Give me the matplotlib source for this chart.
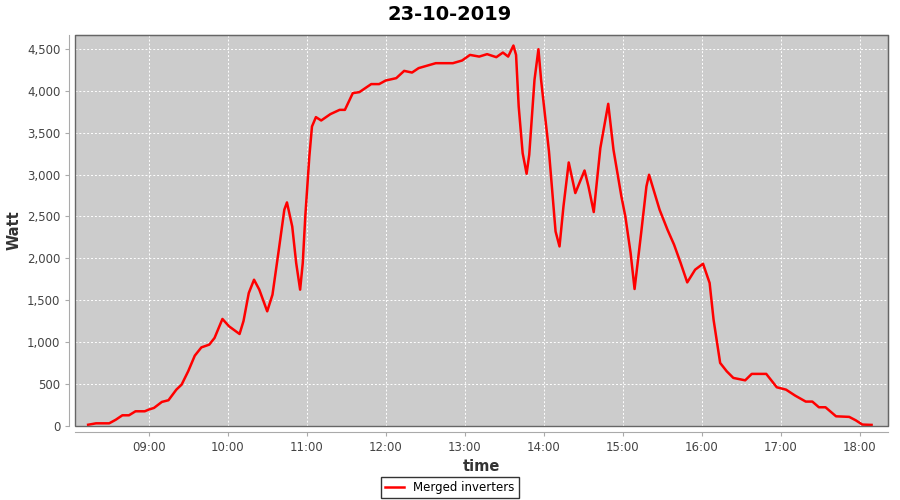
import matplotlib
matplotlib.use('Agg')
import matplotlib.pyplot as plt
import matplotlib.dates as mdates
from matplotlib.patches import Rectangle
from matplotlib.ticker import FuncFormatter
import pandas as pd

# readings of 23-10-2019 (time of day, Watt)
times = ['08:14', '08:20', '08:30', '08:35', '08:40', '08:45', '08:50', '08:57',
         '09:00', '09:04', '09:10', '09:15', '09:21', '09:25', '09:30', '09:35',
         '09:40', '09:46', '09:50', '09:56', '10:01', '10:09', '10:12', '10:16',
         '10:20', '10:24', '10:30', '10:34', '10:39', '10:43', '10:45', '10:49',
         '10:52', '10:55', '10:57', '10:59', '11:02', '11:04', '11:07', '11:11',
         '11:18', '11:25', '11:29', '11:35', '11:40', '11:49', '11:55', '12:00',
         '12:08', '12:14', '12:20', '12:25', '12:38', '12:51', '12:58', '13:04',
         '13:11', '13:17', '13:24', '13:29', '13:33', '13:37', '13:39', '13:41',
         '13:44', '13:47', '13:49', '13:53', '13:56', '13:58', '14:04', '14:09',
         '14:12', '14:15', '14:19', '14:24', '14:31', '14:34', '14:38', '14:43',
         '14:49', '14:53', '14:59', '15:02', '15:06', '15:09', '15:14', '15:18',
         '15:20', '15:28', '15:34', '15:39', '15:44', '15:49', '15:55', '16:01',
         '16:06', '16:09', '16:14', '16:19', '16:24', '16:33', '16:38', '16:49',
         '16:57', '17:04', '17:11', '17:19', '17:24', '17:29', '17:34', '17:42',
         '17:52', '17:57', '18:02', '18:09']
watt = [10, 27, 27, 70, 123, 123, 171, 171,
        191, 211, 283, 303, 430, 490, 650, 836,
        935, 968, 1048, 1275, 1187, 1095, 1250, 1585,
        1744, 1625, 1366, 1565, 2123, 2581, 2668, 2381,
        1944, 1625, 1944, 2521, 3217, 3576, 3688, 3648,
        3724, 3775, 3775, 3975, 3987, 4083, 4083, 4126,
        4154, 4241, 4221, 4274, 4333, 4333, 4365, 4432,
        4412, 4441, 4405, 4460, 4412, 4544, 4432, 3815,
        3258, 3011, 3238, 4134, 4500, 4134, 3277, 2321,
        2142, 2620, 3146, 2780, 3050, 2859, 2553, 3318,
        3847, 3297, 2739, 2500, 2063, 1633, 2302, 2859,
        2999, 2581, 2342, 2163, 1944, 1712, 1864, 1935,
        1705, 1266, 749, 649, 570, 541, 618, 618,
        458, 430, 358, 287, 287, 219, 219, 111,
        104, 63, 12, 8]

x = pd.to_datetime(['2019-10-23 ' + t for t in times])

fig = plt.figure(figsize=(9, 5), dpi=100)
ax = fig.add_axes([0.0833, 0.148, 0.9034, 0.782])
ax.set_facecolor('#cccccc')

line, = ax.plot(x, watt, color='#ff0000', lw=1.8, label='Merged inverters')

ax.set_xlim(pd.Timestamp('2019-10-23 08:04'), pd.Timestamp('2019-10-23 18:21:30'))
ax.set_ylim(-5, 4670)
ax.set_yticks(range(0, 4501, 500))
ax.yaxis.set_major_formatter(FuncFormatter(lambda v, p: f'{int(v):,}'))
ax.xaxis.set_major_locator(mdates.HourLocator())
ax.xaxis.set_major_formatter(mdates.DateFormatter('%H:%M'))

ax.grid(True, color='white', linestyle=(0, (2, 2)), linewidth=0.7)
ax.set_axisbelow(True)

# separate axis lines like the original, plus plot outline
for s in ['left', 'bottom']:
    ax.spines[s].set_position(('outward', 4))
    ax.spines[s].set_color('#aaaaaa')
for s in ['top', 'right']:
    ax.spines[s].set_color('#666666')
ax.add_patch(Rectangle((0, 0), 1, 1, transform=ax.transAxes, fill=False,
                       edgecolor='#666666', lw=1, clip_on=False, zorder=5))

ax.tick_params(axis='both', colors='#aaaaaa', labelcolor='#444444',
               labelsize=8.5, length=3, width=0.8)

fig.text(0.5, 0.972, '23-10-2019', fontsize=14, fontweight='bold',
         ha='center', va='center')
ax.set_ylabel('Watt', fontsize=10.5, fontweight='bold', color='#333333', labelpad=4)
ax.set_xlabel('time', fontsize=10.5, fontweight='bold', color='#333333')

leg = fig.legend(handles=[line], loc='lower center', bbox_to_anchor=(0.5, -0.008),
                 fontsize=8.5, fancybox=False, handlelength=1.6, borderpad=0.35)
leg.get_frame().set_edgecolor('black')
leg.get_frame().set_linewidth(1)

fig.savefig('out.png', dpi=100)
